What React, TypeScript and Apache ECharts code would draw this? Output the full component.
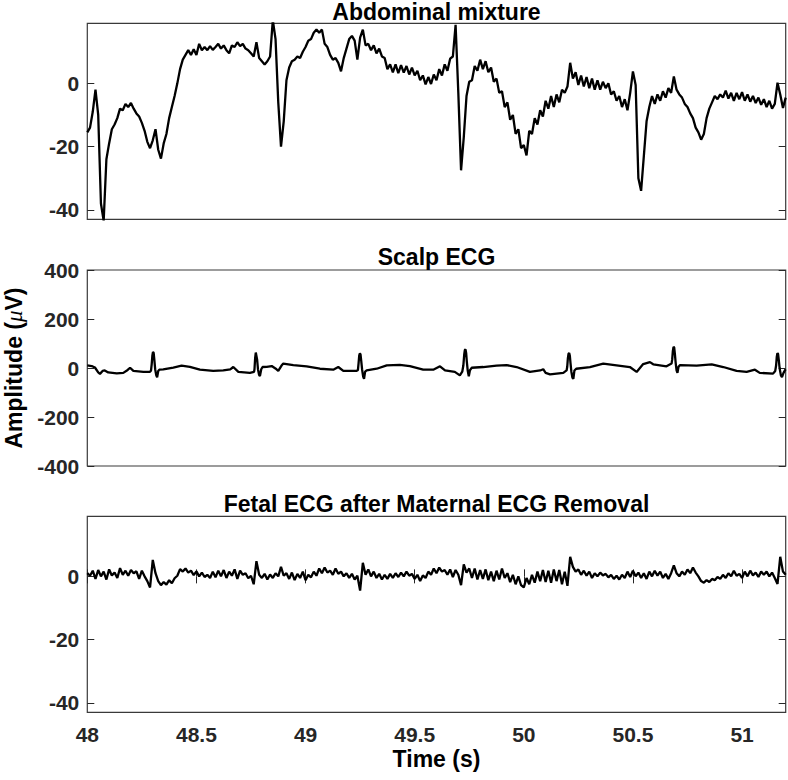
import React, { useEffect, useRef } from "react";
import * as echarts from "echarts";

// Uniformly sampled signals (start time and sample step in seconds)
const sampleStart = 48;
const sampleStep = 0.0125;

// Abdominal mixture (16 samples per row = 0.2 s per row)
const abdominalValues: number[] = [
  -15.5, -14, -9, -2, -10, -38, -43.5, -24, -19, -14.5, -13, -11, -8, -8.5, -6.5, -7.5,
  -6.2, -8, -9.5, -10.5, -12.5, -15, -18.5, -20.5, -18, -14.5, -21, -23.8, -19, -16, -11, -7.5,
  -4, 0, 4.5, 7.5, 9, 10.5, 9, 10.8, 9, 12.5, 10.5, 11.5, 10.5, 11.8, 10.6, 11.5,
  12.5, 11, 12, 10.5, 9.5, 12, 11.5, 13, 11.8, 12.5, 11, 10.5, 9.5, 8.5, 13, 8,
  7, 6, 7, 8.5, 20, 14, -6, -20, -12, 1, 5, 7, 7.5, 8.5, 8, 10,
  11.5, 13.5, 14, 16, 17, 16, 17, 12.5, 11.5, 9, 7.5, 8, 6.5, 3.8, 8, 11,
  14, 15, 13.5, 7.5, 14.5, 17, 12, 12.5, 10.5, 12, 9.5, 11, 8.5, 8, 4.5, 6,
  3.5, 6, 3.2, 5.8, 3.4, 5.5, 2.8, 5, 2.5, 4, 1, 2.5, -0.3, 2, -0.2, 2.8,
  1, 4.5, 2.5, 6, 4, 7.8, 8.5, 18.5, -3, -27.5, -17, -4, 0.5, 1, 5.5, 4,
  7.5, 4.5, 7, 3.5, 5, 0.5, 1.5, -3, -2.5, -7.5, -6, -11.5, -10, -16, -14.5, -20.5,
  -19.5, -22.8, -15, -16, -11, -13, -8.5, -10.5, -5.5, -8, -4, -7.5, -3.5, -6, -2, -3,
  -1, 6.5, 1.5, 3.5, -0.5, 2.5, -1, 2, -1.5, 1.5, -2, 1, -2, 0.5, -1.5, 0,
  -3.5, -2.5, -5.5, -4, -7.5, -5, -8.5, -3, 3.8, -0.5, -30, -34, -23, -12, -7.5, -4,
  -6.5, -3.5, -5.5, -2.5, -4.5, -1.5, -3, 2.2, -2, -3.5, -4.5, -6.5, -7.5, -9.5, -11, -14,
  -15.5, -17.8, -16, -11, -8, -6, -4, -5, -3.5, -4.5, -2.3, -4.8, -3, -5.5, -3, -5,
  -2.8, -5.5, -3.5, -5.8, -4, -6.2, -4.5, -6.8, -5, -7.5, -5.5, -8, -6.5, 0.2, -3.5, -7.8,
  -4.5,
];

// Fetal ECG after maternal ECG removal (16 samples per row)
const fetalValues: number[] = [
  1, 0.2, 1.8, -0.8, 2, 0, 1.5, -1, 2.2, 0.3, 1.2, -0.5, 2.6, 0.5, 1.8, 0.2,
  2, 1, 1.6, -0.8, 1.8, 0, -1.5, -3.5, 5.2, 1, -1.5, -2.8, -1.8, -2.6, -1.2, -2.2,
  -0.6, 0.2, 2.3, 1.5, 2.5, 1.2, 1.8, 0.4, 1.6, 0, 1.2, -0.2, 0.5, -0.5, 1.5, -0.3,
  1.8, 0, 2, -0.5, 1.5, 0.2, 2.2, -0.8, 1.8, 0.5, 1, -0.6, 0.2, -2.5, 4.8, 0.5,
  -0.5, 0.8, -1, 0.6, -0.5, 1, 0, 3, 0.2, 1, -0.8, 1.2, -1.2, 0.8, -0.5, 1.5,
  -1.2, 0.5, -0.3, 1.5, 0.2, 2.5, 1, 2.8, 1.2, 1.8, 0.5, 2.5, 0.8, 1.5, 0, 1,
  -0.5, 0.8, -1, 0.2, -4.5, 4.3, 0.5, 2.2, 0, 1.5, -0.5, 0.8, -1, 0.5, -0.8, 0.8,
  -0.5, 1, -0.2, 1.2, 0, 1.5, 0.2, 0.8, -0.8, 0.5, -1.5, 0.3, -0.5, 1.5, 0.5, 2.5,
  1, 2.8, 1.5, 2, 0.5, 2.2, -0.2, 2, 0.5, -2.8, 3.8, 1.2, 2.5, -0.5, 2.5, -1,
  2, -0.8, 2.2, -1.2, 1.5, -1.5, 1.8, -1, 2.5, -0.5, 1, -1.8, 0.5, -2.5, 0, -2.8,
  -3.5, -0.5, -2.5, 0.5, -2, 1.5, -1.5, 2, -1.8, 1.8, -2, 2.2, -1.5, 2, -2.5, 1.5,
  -3, 6.2, 3, 1.5, 2.2, 0.5, 1.8, 0.2, 1.5, -0.5, 1, 0, 1.2, 0.3, 0.8, -0.3,
  0.5, -0.8, 0.2, -1, 0.5, -0.5, 1.5, -0.2, 1.8, 0, 1.2, -0.5, 1, -0.8, 1.5, 0,
  1.8, 0.2, 1.5, -0.5, 0.8, -0.8, 1, 3.5, 1, 0, 1.5, 0.5, 2.2, 1, 2.8, 1.2,
  0, -1.5, -2, -1.2, -1.8, -0.8, -1.2, -0.2, -0.8, 0.5, -0.5, 1, 0, 1.8, 0.2, 0.8,
  -0.5, 1.5, 0, 1.8, 0.3, 1.2, -0.2, 1.5, 0.5, 1.5, 0, 1.2, -0.5, -2.4, 6.2, 1.5,
  0.5,
];

// Scalp ECG: [time (s), amplitude (µV)]
const scalpPoints: [number, number][] = [
  [48.0, 11], [48.02, 8], [48.035, 2], [48.05, -18], [48.058, -24], [48.07, -12], [48.08, -10],
  [48.096, -18], [48.135, -22], [48.165, -20], [48.185, -8], [48.196, 1], [48.211, -12],
  [48.257, -16], [48.287, -16], [48.292, -10], [48.295, 15], [48.298, 50], [48.301, 65],
  [48.304, 62], [48.307, 35], [48.311, -5], [48.316, -30], [48.32, -38], [48.325, -12],
  [48.33, -7], [48.348, -6], [48.394, 2],
  [48.432, 10], [48.47, 5], [48.516, -7], [48.577, -12], [48.623, -10], [48.655, -6],
  [48.669, 4], [48.692, -16], [48.745, -20], [48.764, -16], [48.766, -5], [48.769, 40],
  [48.772, 63], [48.775, 62], [48.778, 35], [48.782, -5], [48.787, -28], [48.791, -33],
  [48.797, -5], [48.803, 4], [48.822, 5],
  [48.845, 8], [48.862, -2], [48.875, -12], [48.89, 10], [48.898, 18], [48.944, 12],
  [49.005, 7], [49.066, -3], [49.127, -7], [49.15, 4], [49.173, -12], [49.234, -12],
  [49.24, -8], [49.243, 20], [49.246, 52], [49.249, 60], [49.252, 55], [49.255, 30],
  [49.259, -5], [49.264, -35], [49.268, -44], [49.273, -15], [49.28, -10],
  [49.326, -3], [49.372, 11], [49.432, 13], [49.478, 8], [49.539, -7],
  [49.585, -7], [49.616, 7], [49.639, -10], [49.684, -16], [49.707, -30], [49.718, -15],
  [49.723, 10], [49.727, 55], [49.73, 74], [49.733, 76], [49.736, 60], [49.739, 25],
  [49.743, -10], [49.748, -34], [49.753, -10], [49.761, 1],
  [49.814, 4], [49.875, 10], [49.921, 12], [49.967, 4], [50.028, -16], [50.075, -10],
  [50.089, -5], [50.1, -20], [50.12, -26], [50.181, -20], [50.196, -10], [50.199, 5],
  [50.202, 40], [50.205, 58], [50.208, 61], [50.211, 50], [50.214, 20], [50.218, -15],
  [50.223, -40], [50.227, -44], [50.232, -10], [50.24, -3], [50.303, 4],
  [50.364, 18], [50.425, 11], [50.486, 4], [50.517, -16], [50.547, 16], [50.578, 24],
  [50.593, 15], [50.654, 7], [50.677, 18], [50.68, 35], [50.683, 70], [50.686, 86],
  [50.689, 84], [50.692, 60], [50.696, 20], [50.7, -10], [50.704, -20], [50.709, 5],
  [50.716, 12], [50.792, 10], [50.861, 15], [50.914, 4],
  [50.975, -12], [51.021, -16], [51.059, -7], [51.081, -20], [51.142, -23], [51.152, -12],
  [51.156, 10], [51.159, 45], [51.162, 60], [51.165, 58], [51.168, 35], [51.172, 0],
  [51.178, -30], [51.183, -37], [51.19, -20], [51.196, -10], [51.2, -5],
];

const panelTitles = ["Abdominal mixture", "Scalp ECG", "Fetal ECG after Maternal ECG Removal"];
const xTicks = [48, 48.5, 49, 49.5, 50, 50.5, 51];
const smallYTicks = [-40, -20, 0];
const scalpYTicks = [-400, -200, 0, 200, 400];

const FONT = "'Liberation Sans', Arial, Helvetica, sans-serif";
const AXIS_COLOR = "#262626";
const FRAME_COLOR = "#3a3a3a";

const GRID_LEFT = 87.3;
const GRID_WIDTH = 698.4;
const GRID_HEIGHT = 196;
const GRID_TOPS = [23.3, 270, 516.3];

function uniformSeries(values: number[]): [number, number][] {
  return values.map((v, i) => [sampleStart + i * sampleStep, v]);
}

function makeYAxes(gridIndex: number, min: number, max: number, ticks: number[]) {
  const tick = {
    show: true,
    inside: true,
    length: 7,
    lineStyle: { color: AXIS_COLOR, width: 1 },
    customValues: ticks,
  };
  return [
    {
      type: "value",
      gridIndex,
      min,
      max,
      position: "left",
      axisLine: { show: false },
      splitLine: { show: false },
      axisTick: tick,
      axisLabel: {
        show: true,
        customValues: ticks,
        margin: 8,
        fontSize: 21,
        fontWeight: "bold",
        color: AXIS_COLOR,
        fontFamily: FONT,
      },
    },
    {
      type: "value",
      gridIndex,
      min,
      max,
      position: "right",
      axisLine: { show: false },
      splitLine: { show: false },
      axisTick: tick,
      axisLabel: { show: false },
    },
  ];
}

function makeXAxis(gridIndex: number, position: string, showTicks: boolean, showLabels: boolean) {
  return {
    type: "value",
    gridIndex,
    min: 48,
    max: 51.2,
    position,
    axisLine: { show: false },
    splitLine: { show: false },
    axisTick: {
      show: showTicks,
      inside: true,
      length: 7,
      lineStyle: { color: AXIS_COLOR, width: 1 },
      customValues: xTicks,
    },
    axisLabel: {
      show: showLabels,
      customValues: xTicks,
      margin: 12,
      fontSize: 21,
      fontWeight: "bold",
      color: AXIS_COLOR,
      fontFamily: FONT,
      formatter: (v: number) => String(v),
    },
  };
}

export default function App() {
  const ref = useRef<HTMLDivElement>(null);

  useEffect(() => {
    if (!ref.current) return;
    const chart = echarts.init(ref.current, undefined, { renderer: "svg" });

    const grids = GRID_TOPS.map((top) => ({
      left: GRID_LEFT,
      top,
      width: GRID_WIDTH,
      height: GRID_HEIGHT,
      show: true,
      borderColor: FRAME_COLOR,
      borderWidth: 1.2,
      backgroundColor: "transparent",
      containLabel: false,
      outerBoundsMode: "none",
    }));

    const lineStyle = { color: "#000", width: 2.3 };
    const baseSeries = {
      type: "line",
      showSymbol: false,
      symbol: "none",
      lineStyle,
      clip: true,
      z: 3,
    };

    const option: any = {
      animation: false,
      backgroundColor: "#fff",
      grid: grids,
      xAxis: [
        makeXAxis(0, "bottom", false, false),
        makeXAxis(1, "bottom", false, false),
        makeXAxis(2, "bottom", true, true),
        makeXAxis(2, "top", true, false),
      ],
      yAxis: [
        ...makeYAxes(0, -43, 19, smallYTicks),
        ...makeYAxes(1, -400, 400, scalpYTicks),
        ...makeYAxes(2, -43, 19, smallYTicks),
      ],
      series: [
        { ...baseSeries, name: panelTitles[0], xAxisIndex: 0, yAxisIndex: 0, data: uniformSeries(abdominalValues) },
        { ...baseSeries, name: panelTitles[1], xAxisIndex: 1, yAxisIndex: 2, data: scalpPoints },
        { ...baseSeries, name: panelTitles[2], xAxisIndex: 2, yAxisIndex: 4, data: uniformSeries(fetalValues) },
      ],
      graphic: [
        ...panelTitles.map((t, i) => ({
          type: "text",
          x: GRID_LEFT + GRID_WIDTH / 2,
          y: [11.5, 256.7, 503.8][i],
          style: {
            text: t,
            fontSize: 23,
            fontWeight: "bold",
            fontFamily: FONT,
            fill: "#000",
            align: "center",
            verticalAlign: "middle",
          },
        })),
        {
          type: "text",
          x: GRID_LEFT + GRID_WIDTH / 2,
          y: 759,
          style: {
            text: "Time (s)",
            fontSize: 23,
            fontWeight: "bold",
            fontFamily: FONT,
            fill: "#000",
            align: "center",
            verticalAlign: "middle",
          },
        },
        {
          type: "text",
          x: 14,
          y: 368,
          rotation: Math.PI / 2,
          style: {
            text: "{a|Amplitude (}{m|μ}{a|V)}",
            align: "center",
            verticalAlign: "middle",
            rich: {
              a: { fontSize: 23, fontWeight: "bold", fontFamily: FONT, fill: "#000" },
              m: { fontSize: 23, fontStyle: "italic", fontFamily: "'Liberation Serif', 'DejaVu Serif', serif", fill: "#000" },
            },
          },
        },
      ],
    };

    chart.setOption(option);
    return () => chart.dispose();
  }, []);

  return (
    <div
      ref={ref}
      style={{ position: "fixed", left: 0, top: 0, width: 788, height: 780, background: "#fff" }}
    />
  );
}
